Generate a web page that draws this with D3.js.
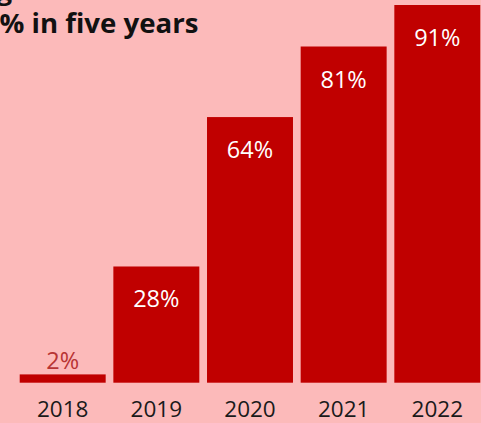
<!DOCTYPE html>
<html><head><meta charset="utf-8">
<script src="https://cdn.jsdelivr.net/npm/d3@7/dist/d3.min.js"></script>
<style>
html,body{margin:0;padding:0;background:#fcbaba;overflow:hidden;}
svg{display:block;font-family:"Open Sans",sans-serif;}
</style></head>
<body>
<script>
const categories = ["2018","2019","2020","2021","2022"];
const values = [2, 28, 64, 81, 91];
const valueLabels = ["2%","28%","64%","81%","91%"];
const titleLines = ["Share of adoption, growing", "from 2% to 91% in five years"];

const W = 481, H = 423;
const svg = d3.select("body").append("svg").attr("width", W).attr("height", H);
svg.append("rect").attr("width", W).attr("height", H).attr("fill", "#fcbaba");

const x = d3.scaleBand().domain(categories).range([19.7, 480.3]).paddingInner(0.082).paddingOuter(0);
const y = d3.scaleLinear().domain([0, 91]).range([382.7, 5]);

svg.selectAll("rect.bar").data(values).join("rect")
  .attr("class","bar")
  .attr("x", (d,i) => x(categories[i]))
  .attr("y", d => y(d))
  .attr("width", x.bandwidth())
  .attr("height", d => y(0) - y(d))
  .attr("fill", "#c00000");

svg.selectAll("text.val").data(values).join("text")
  .attr("class","val")
  .attr("x", (d,i) => x(categories[i]) + x.bandwidth()/2)
  .attr("y", d => (y(0) - y(d)) > 50 ? y(d) + 41 : y(d) - 5)
  .attr("text-anchor","middle")
  .attr("font-size", 23.5)
  .attr("fill", d => (y(0) - y(d)) > 50 ? "#ffffff" : "#b83434")
  .text((d,i) => valueLabels[i]);

const xAxis = d3.axisBottom(x).tickSize(0).tickPadding(0);
const gx = svg.append("g").attr("transform", `translate(0,${y(0)})`).call(xAxis);
gx.select(".domain").remove();
gx.selectAll("text").attr("font-size", 22.5).attr("fill", "#1a1a1a")
  .attr("font-family", "Open Sans, sans-serif").attr("dy", null).attr("y", 34.5);

// Title (cropped at the top-left in the reference)
const TS = 27.6;
svg.append("text").attr("x", 12).attr("y", 0).attr("text-anchor","end")
  .attr("font-size", TS).attr("font-weight", 700).attr("fill","#111").text(titleLines[0]);
const t2 = svg.append("text").attr("y", 33).attr("font-size", TS).attr("font-weight", 700).attr("fill","#111");
t2.text(titleLines[1]);
const full = titleLines[1];
const idx = full.indexOf("% in");
const tmp = svg.append("text").attr("font-size",TS).attr("font-weight",700).text(full.slice(0, idx));
const pre = tmp.node().getComputedTextLength();
tmp.remove();
t2.attr("x", -pre - 0.5);
</script>
</body></html>
